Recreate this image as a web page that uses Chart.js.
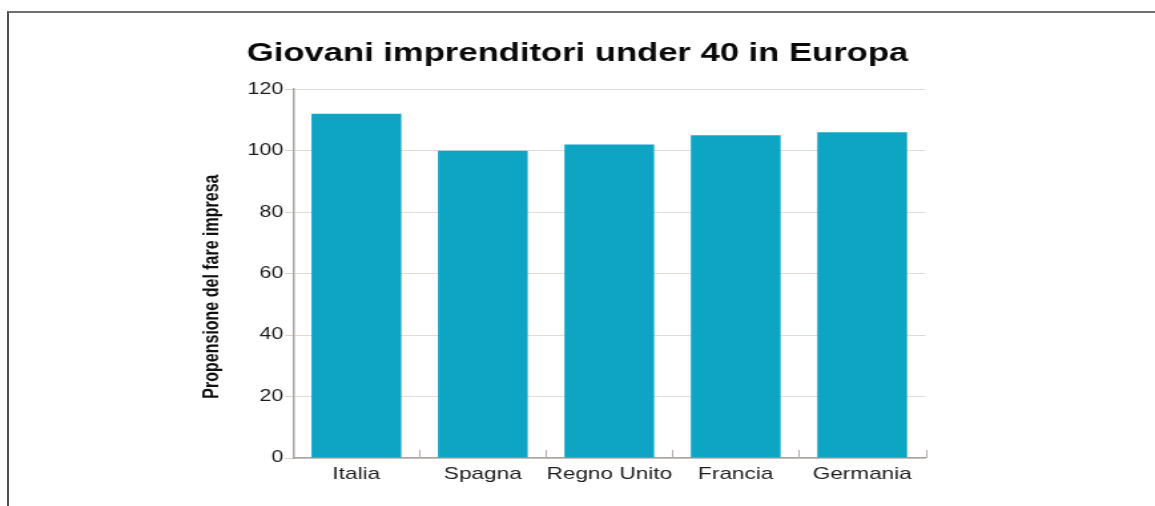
<!DOCTYPE html>
<html lang="it">
<head>
<meta charset="utf-8">
<title>Giovani imprenditori under 40 in Europa</title>
<script src="https://cdn.jsdelivr.net/npm/chart.js@4"></script>
<style>
  html, body { margin: 0; padding: 0; background: #ffffff; }
  body { width: 1155px; height: 506px; position: relative; overflow: hidden; }
  /* page frame: top and left rules only */
  #frame {
    position: absolute; left: 7px; top: 11px; right: -10px; bottom: -10px;
    border-top: 2px solid #707070; border-left: 2px solid #505050;
  }
  /* the artwork is set wide: canvas drawn narrow, stretched horizontally */
  #stage {
    position: absolute; left: 0; top: 0;
    width: 868px; height: 506px;
    transform: scaleX(1.3306); transform-origin: 0 0;
  }
  #chart { display: block; }
</style>
</head>
<body>
<div id="frame"></div>
<div id="stage"><canvas id="chart" width="868" height="506"></canvas></div>
<script>
// Data
const paesi = ['Italia', 'Spagna', 'Regno Unito', 'Francia', 'Germania'];
const propensione = [112, 100, 102, 105, 106];
const yTicks = [0, 20, 40, 60, 80, 100, 120];

const titolo = 'Giovani imprenditori under 40 in Europa';
const titoloAsseY = 'Propensione del fare impresa';

const FONT = "'Liberation Sans', Arial, Helvetica, sans-serif";

// short upward tick marks on the category axis, between the bars
const categoryTicks = {
  id: 'categoryTicks',
  afterDatasetsDraw(chart) {
    const x = chart.scales.x;
    const ctx = chart.ctx;
    const step = (x.right - x.left) / chart.data.labels.length;
    ctx.save();
    ctx.strokeStyle = '#b3aca8';
    ctx.lineWidth = 1;
    for (let i = 1; i <= chart.data.labels.length; i++) {
      const px = Math.round(x.left + i * step) + 0.5;
      ctx.beginPath();
      ctx.moveTo(px, x.top);
      ctx.lineTo(px, x.top - 8);
      ctx.stroke();
    }
    ctx.restore();
  }
};

// rotated y-axis caption
const yCaption = {
  id: 'yCaption',
  afterDraw(chart) {
    const ctx = chart.ctx;
    const a = chart.chartArea;
    ctx.save();
    ctx.translate(160, (a.top + a.bottom) / 2 + 13);
    ctx.rotate(-Math.PI / 2);
    ctx.font = 'bold 16px ' + FONT;
    ctx.fillStyle = '#111111';
    ctx.textAlign = 'center';
    ctx.textBaseline = 'middle';
    ctx.fillText(titoloAsseY, 0, 0);
    ctx.restore();
  }
};

new Chart(document.getElementById('chart'), {
  type: 'bar',
  data: {
    labels: paesi,
    datasets: [{
      data: propensione,
      backgroundColor: '#0ea5c4',
      borderWidth: 0,
      barPercentage: 0.71,
      categoryPercentage: 1.0
    }]
  },
  options: {
    responsive: false,
    animation: false,
    devicePixelRatio: 1,
    layout: { padding: { top: 0, left: 0, right: 0, bottom: 0 } },
    plugins: {
      legend: { display: false },
      tooltip: { enabled: false },
      title: {
        display: true,
        text: titolo,
        color: '#0a0a0a',
        font: { family: FONT, size: 26, weight: 'bold', lineHeight: 1.2 },
        padding: { top: 38, bottom: 20 }
      }
    },
    scales: {
      x: {
        grid: { display: false, drawTicks: false },
        border: { display: true, color: '#aaa39f', width: 1.5 },
        ticks: {
          color: '#1c1c1c',
          padding: 6,
          maxRotation: 0,
          minRotation: 0,
          autoSkip: false,
          font: { family: FONT, size: 17 }
        },
        afterFit(s) { s.height = 48; }
      },
      y: {
        min: 0,
        max: 120,
        afterBuildTicks(s) { s.ticks = yTicks.map(v => ({ value: v })); },
        grid: { color: '#e2dad5', lineWidth: 1, drawTicks: true, tickLength: 6, tickColor: '#d8d0cb' },
        border: { display: true, color: '#aaa39f', width: 1.5 },
        ticks: {
          color: '#1c1c1c',
          padding: 1.5,
          font: { family: FONT, size: 16 }
        },
        afterFit(s) { s.width = 220.3; }
      },
      y2: {
        position: 'right',
        display: true,
        grid: { display: false, drawTicks: false },
        border: { display: false },
        ticks: { display: false },
        afterFit(s) { s.width = 172.5; }
      }
    }
  },
  plugins: [categoryTicks, yCaption]
});
</script>
</body>
</html>
